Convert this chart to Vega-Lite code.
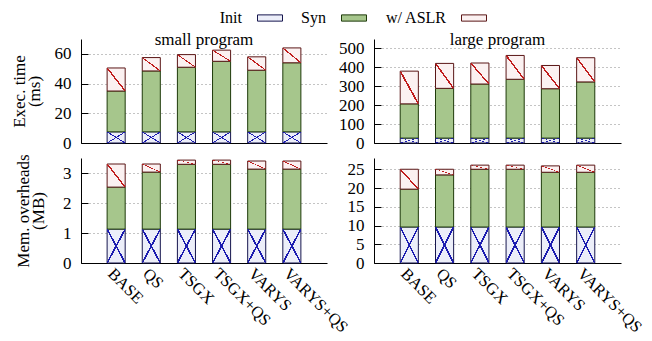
{
 "$schema": "https://vega.github.io/schema/vega-lite/v6.json",
 "background": "white",
 "padding": {"left": 10, "top": 5, "right": 2, "bottom": 0},
 "config": {
  "font": "Liberation Serif",
  "view": {"stroke": null},
  "axis": {"labelFont": "Liberation Serif", "labelFontSize": 17, "labelColor": "#000", "titleFont": "Liberation Serif", "titleFontSize": 17, "titleFontWeight": "normal", "titleColor": "#000", "titleLineHeight": 15, "domainColor": "#000", "domainWidth": 1, "tickColor": "#000", "gridColor": "#888", "gridDash": [1, 3]},
  "axisX": {"grid": false, "ticks": false, "title": null, "labelAngle": 45, "labelAlign": "left", "labelBaseline": "top", "labelPadding": 2, "labelFontSize": 16.5},
  "axisY": {"ticks": true, "tickSize": -7, "labelPadding": 17},
  "title": {"font": "Liberation Serif", "fontSize": 17, "fontWeight": "normal", "color": "#000", "offset": -10},
  "legend": {"labelFont": "Liberation Serif", "labelFontSize": 16, "labelColor": "#000", "symbolType": "M-1,-0.25H1V0.25H-1Z", "symbolSize": 625, "symbolStrokeWidth": 1, "symbolOpacity": 1, "labelAlign": "right", "labelOffset": -41, "columnPadding": 16}
 },
 "datasets": {
  "se": [
   {"p": "BASE", "c": "Init", "v": 7.5}, {"p": "BASE", "c": "Syn", "v": 27.5}, {"p": "BASE", "c": "w/ ASLR", "v": 15.5},
   {"p": "QS", "c": "Init", "v": 7.5}, {"p": "QS", "c": "Syn", "v": 41}, {"p": "QS", "c": "w/ ASLR", "v": 9},
   {"p": "TSGX", "c": "Init", "v": 7.5}, {"p": "TSGX", "c": "Syn", "v": 43.5}, {"p": "TSGX", "c": "w/ ASLR", "v": 8.5},
   {"p": "TSGX+QS", "c": "Init", "v": 7.5}, {"p": "TSGX+QS", "c": "Syn", "v": 47.5}, {"p": "TSGX+QS", "c": "w/ ASLR", "v": 7.5},
   {"p": "VARYS", "c": "Init", "v": 7.5}, {"p": "VARYS", "c": "Syn", "v": 41.5}, {"p": "VARYS", "c": "w/ ASLR", "v": 9},
   {"p": "VARYS+QS", "c": "Init", "v": 7.5}, {"p": "VARYS+QS", "c": "Syn", "v": 46.5}, {"p": "VARYS+QS", "c": "w/ ASLR", "v": 10}
  ],
  "le": [
   {"p": "BASE", "c": "Init", "v": 26}, {"p": "BASE", "c": "Syn", "v": 181}, {"p": "BASE", "c": "w/ ASLR", "v": 173},
   {"p": "QS", "c": "Init", "v": 26}, {"p": "QS", "c": "Syn", "v": 263}, {"p": "QS", "c": "w/ ASLR", "v": 132},
   {"p": "TSGX", "c": "Init", "v": 26}, {"p": "TSGX", "c": "Syn", "v": 286}, {"p": "TSGX", "c": "w/ ASLR", "v": 111},
   {"p": "TSGX+QS", "c": "Init", "v": 26}, {"p": "TSGX+QS", "c": "Syn", "v": 311}, {"p": "TSGX+QS", "c": "w/ ASLR", "v": 126},
   {"p": "VARYS", "c": "Init", "v": 26}, {"p": "VARYS", "c": "Syn", "v": 261}, {"p": "VARYS", "c": "w/ ASLR", "v": 123},
   {"p": "VARYS+QS", "c": "Init", "v": 26}, {"p": "VARYS+QS", "c": "Syn", "v": 297}, {"p": "VARYS+QS", "c": "w/ ASLR", "v": 128}
  ],
  "sm": [
   {"p": "BASE", "c": "Init", "v": 1.13}, {"p": "BASE", "c": "Syn", "v": 1.4}, {"p": "BASE", "c": "w/ ASLR", "v": 0.77},
   {"p": "QS", "c": "Init", "v": 1.13}, {"p": "QS", "c": "Syn", "v": 1.9}, {"p": "QS", "c": "w/ ASLR", "v": 0.27},
   {"p": "TSGX", "c": "Init", "v": 1.13}, {"p": "TSGX", "c": "Syn", "v": 2.16}, {"p": "TSGX", "c": "w/ ASLR", "v": 0.14},
   {"p": "TSGX+QS", "c": "Init", "v": 1.13}, {"p": "TSGX+QS", "c": "Syn", "v": 2.16}, {"p": "TSGX+QS", "c": "w/ ASLR", "v": 0.14},
   {"p": "VARYS", "c": "Init", "v": 1.13}, {"p": "VARYS", "c": "Syn", "v": 2.0}, {"p": "VARYS", "c": "w/ ASLR", "v": 0.27},
   {"p": "VARYS+QS", "c": "Init", "v": 1.13}, {"p": "VARYS+QS", "c": "Syn", "v": 2.0}, {"p": "VARYS+QS", "c": "w/ ASLR", "v": 0.27}
  ],
  "lm": [
   {"p": "BASE", "c": "Init", "v": 9.6}, {"p": "BASE", "c": "Syn", "v": 10.1}, {"p": "BASE", "c": "w/ ASLR", "v": 5.3},
   {"p": "QS", "c": "Init", "v": 9.6}, {"p": "QS", "c": "Syn", "v": 13.9}, {"p": "QS", "c": "w/ ASLR", "v": 1.5},
   {"p": "TSGX", "c": "Init", "v": 9.6}, {"p": "TSGX", "c": "Syn", "v": 15.4}, {"p": "TSGX", "c": "w/ ASLR", "v": 1.1},
   {"p": "TSGX+QS", "c": "Init", "v": 9.6}, {"p": "TSGX+QS", "c": "Syn", "v": 15.4}, {"p": "TSGX+QS", "c": "w/ ASLR", "v": 1.1},
   {"p": "VARYS", "c": "Init", "v": 9.6}, {"p": "VARYS", "c": "Syn", "v": 14.6}, {"p": "VARYS", "c": "w/ ASLR", "v": 1.7},
   {"p": "VARYS+QS", "c": "Init", "v": 9.6}, {"p": "VARYS+QS", "c": "Syn", "v": 14.6}, {"p": "VARYS+QS", "c": "w/ ASLR", "v": 1.9}
  ]
 },
 "columns": 2,
 "bounds": "flush",
 "spacing": {"row": 15, "column": 47},
 "resolve": {"scale": {"color": "shared", "stroke": "shared"}},
 "concat": [
  {
   "width": 246, "height": 104,
   "title": {"text": "small program"},
   "data": {"name": "se"},
   "transform": [{"stack": "v", "groupby": ["p"], "sort": [{"field": "c", "order": "ascending"}], "as": ["v0", "v1"]}],
   "encoding": {
    "x": {"field": "p", "type": "nominal", "sort": ["BASE", "QS", "TSGX", "TSGX+QS", "VARYS", "VARYS+QS"], "scale": {"paddingInner": 0.486, "paddingOuter": 0.743}, "axis": {"labels": false}},
    "y": {"field": "v0", "type": "quantitative", "scale": {"domain": [0, 70], "nice": false}, "axis": {"values": [0, 20, 40, 60], "title": ["Exec. time", "(ms)"], "titlePadding": 11}},
    "y2": {"field": "v1"}
   },
   "layer": [
    {"mark": {"type": "bar", "strokeWidth": 1},
     "encoding": {
      "color": {"field": "c", "type": "nominal", "scale": {"domain": ["Init", "Syn", "w/ ASLR"], "range": ["#eceef9", "#a6c68c", "#fbf1f1"]}, "legend": {"title": null, "orient": "none", "direction": "horizontal", "legendX": 176, "legendY": -34}},
      "stroke": {"field": "c", "type": "nominal", "scale": {"domain": ["Init", "Syn", "w/ ASLR"], "range": ["#16164e", "#1e3a0a", "#5a1616"]}, "legend": {"title": null, "orient": "none", "direction": "horizontal", "legendX": 176, "legendY": -34}}
     }},
    {"transform": [{"filter": "datum.c == 'Init'"}], "mark": {"type": "bar", "fill": {"gradient": "linear", "x1": 0, "y1": 1, "x2": 1, "y2": 0, "stops": [{"offset": 0, "color": "rgba(0,0,0,0)"}, {"offset": 0.475, "color": "rgba(0,0,0,0)"}, {"offset": 0.475, "color": "#1c1cb0"}, {"offset": 0.525, "color": "#1c1cb0"}, {"offset": 0.525, "color": "rgba(0,0,0,0)"}, {"offset": 1, "color": "rgba(0,0,0,0)"}]}}},
    {"transform": [{"filter": "datum.c == 'Init'"}], "mark": {"type": "bar", "fill": {"gradient": "linear", "x1": 0, "y1": 0, "x2": 1, "y2": 1, "stops": [{"offset": 0, "color": "rgba(0,0,0,0)"}, {"offset": 0.475, "color": "rgba(0,0,0,0)"}, {"offset": 0.475, "color": "#1c1cb0"}, {"offset": 0.525, "color": "#1c1cb0"}, {"offset": 0.525, "color": "rgba(0,0,0,0)"}, {"offset": 1, "color": "rgba(0,0,0,0)"}]}}},
    {"transform": [{"filter": "datum.c == 'w/ ASLR'"}], "mark": {"type": "bar", "fill": {"gradient": "linear", "x1": 0, "y1": 1, "x2": 1, "y2": 0, "stops": [{"offset": 0, "color": "rgba(0,0,0,0)"}, {"offset": 0.475, "color": "rgba(0,0,0,0)"}, {"offset": 0.475, "color": "#c01c1c"}, {"offset": 0.525, "color": "#c01c1c"}, {"offset": 0.525, "color": "rgba(0,0,0,0)"}, {"offset": 1, "color": "rgba(0,0,0,0)"}]}}}
   ]
  },
  {
   "width": 247, "height": 104,
   "title": {"text": "large program"},
   "data": {"name": "le"},
   "transform": [{"stack": "v", "groupby": ["p"], "sort": [{"field": "c", "order": "ascending"}], "as": ["v0", "v1"]}],
   "encoding": {
    "x": {"field": "p", "type": "nominal", "sort": ["BASE", "QS", "TSGX", "TSGX+QS", "VARYS", "VARYS+QS"], "scale": {"paddingInner": 0.486, "paddingOuter": 0.743}, "axis": {"labels": false}},
    "y": {"field": "v0", "type": "quantitative", "scale": {"domain": [0, 550], "nice": false}, "axis": {"values": [0, 100, 200, 300, 400, 500], "title": null}},
    "y2": {"field": "v1"}
   },
   "layer": [
    {"mark": {"type": "bar", "strokeWidth": 1},
     "encoding": {
      "color": {"field": "c", "type": "nominal"},
      "stroke": {"field": "c", "type": "nominal"}
     }},
    {"transform": [{"filter": "datum.c == 'Init'"}], "mark": {"type": "bar", "fill": {"gradient": "linear", "x1": 0, "y1": 1, "x2": 1, "y2": 0, "stops": [{"offset": 0, "color": "rgba(0,0,0,0)"}, {"offset": 0.475, "color": "rgba(0,0,0,0)"}, {"offset": 0.475, "color": "#1c1cb0"}, {"offset": 0.525, "color": "#1c1cb0"}, {"offset": 0.525, "color": "rgba(0,0,0,0)"}, {"offset": 1, "color": "rgba(0,0,0,0)"}]}}},
    {"transform": [{"filter": "datum.c == 'Init'"}], "mark": {"type": "bar", "fill": {"gradient": "linear", "x1": 0, "y1": 0, "x2": 1, "y2": 1, "stops": [{"offset": 0, "color": "rgba(0,0,0,0)"}, {"offset": 0.475, "color": "rgba(0,0,0,0)"}, {"offset": 0.475, "color": "#1c1cb0"}, {"offset": 0.525, "color": "#1c1cb0"}, {"offset": 0.525, "color": "rgba(0,0,0,0)"}, {"offset": 1, "color": "rgba(0,0,0,0)"}]}}},
    {"transform": [{"filter": "datum.c == 'w/ ASLR'"}], "mark": {"type": "bar", "fill": {"gradient": "linear", "x1": 0, "y1": 1, "x2": 1, "y2": 0, "stops": [{"offset": 0, "color": "rgba(0,0,0,0)"}, {"offset": 0.475, "color": "rgba(0,0,0,0)"}, {"offset": 0.475, "color": "#c01c1c"}, {"offset": 0.525, "color": "#c01c1c"}, {"offset": 0.525, "color": "rgba(0,0,0,0)"}, {"offset": 1, "color": "rgba(0,0,0,0)"}]}}}
   ]
  },
  {
   "width": 246, "height": 105,
   "data": {"name": "sm"},
   "transform": [{"stack": "v", "groupby": ["p"], "sort": [{"field": "c", "order": "ascending"}], "as": ["v0", "v1"]}],
   "encoding": {
    "x": {"field": "p", "type": "nominal", "sort": ["BASE", "QS", "TSGX", "TSGX+QS", "VARYS", "VARYS+QS"], "scale": {"paddingInner": 0.486, "paddingOuter": 0.743}},
    "y": {"field": "v0", "type": "quantitative", "scale": {"domain": [0, 3.5], "nice": false}, "axis": {"values": [0, 1, 2, 3], "title": ["Mem. overheads", "(MB)"], "titlePadding": 15}},
    "y2": {"field": "v1"}
   },
   "layer": [
    {"mark": {"type": "bar", "strokeWidth": 1},
     "encoding": {
      "color": {"field": "c", "type": "nominal"},
      "stroke": {"field": "c", "type": "nominal"}
     }},
    {"transform": [{"filter": "datum.c == 'Init'"}], "mark": {"type": "bar", "fill": {"gradient": "linear", "x1": 0, "y1": 1, "x2": 1, "y2": 0, "stops": [{"offset": 0, "color": "rgba(0,0,0,0)"}, {"offset": 0.475, "color": "rgba(0,0,0,0)"}, {"offset": 0.475, "color": "#1c1cb0"}, {"offset": 0.525, "color": "#1c1cb0"}, {"offset": 0.525, "color": "rgba(0,0,0,0)"}, {"offset": 1, "color": "rgba(0,0,0,0)"}]}}},
    {"transform": [{"filter": "datum.c == 'Init'"}], "mark": {"type": "bar", "fill": {"gradient": "linear", "x1": 0, "y1": 0, "x2": 1, "y2": 1, "stops": [{"offset": 0, "color": "rgba(0,0,0,0)"}, {"offset": 0.475, "color": "rgba(0,0,0,0)"}, {"offset": 0.475, "color": "#1c1cb0"}, {"offset": 0.525, "color": "#1c1cb0"}, {"offset": 0.525, "color": "rgba(0,0,0,0)"}, {"offset": 1, "color": "rgba(0,0,0,0)"}]}}},
    {"transform": [{"filter": "datum.c == 'w/ ASLR'"}], "mark": {"type": "bar", "fill": {"gradient": "linear", "x1": 0, "y1": 1, "x2": 1, "y2": 0, "stops": [{"offset": 0, "color": "rgba(0,0,0,0)"}, {"offset": 0.475, "color": "rgba(0,0,0,0)"}, {"offset": 0.475, "color": "#c01c1c"}, {"offset": 0.525, "color": "#c01c1c"}, {"offset": 0.525, "color": "rgba(0,0,0,0)"}, {"offset": 1, "color": "rgba(0,0,0,0)"}]}}}
   ]
  },
  {
   "width": 247, "height": 105,
   "data": {"name": "lm"},
   "transform": [{"stack": "v", "groupby": ["p"], "sort": [{"field": "c", "order": "ascending"}], "as": ["v0", "v1"]}],
   "encoding": {
    "x": {"field": "p", "type": "nominal", "sort": ["BASE", "QS", "TSGX", "TSGX+QS", "VARYS", "VARYS+QS"], "scale": {"paddingInner": 0.486, "paddingOuter": 0.743}},
    "y": {"field": "v0", "type": "quantitative", "scale": {"domain": [0, 28], "nice": false}, "axis": {"values": [0, 5, 10, 15, 20, 25], "title": null}},
    "y2": {"field": "v1"}
   },
   "layer": [
    {"mark": {"type": "bar", "strokeWidth": 1},
     "encoding": {
      "color": {"field": "c", "type": "nominal"},
      "stroke": {"field": "c", "type": "nominal"}
     }},
    {"transform": [{"filter": "datum.c == 'Init'"}], "mark": {"type": "bar", "fill": {"gradient": "linear", "x1": 0, "y1": 1, "x2": 1, "y2": 0, "stops": [{"offset": 0, "color": "rgba(0,0,0,0)"}, {"offset": 0.475, "color": "rgba(0,0,0,0)"}, {"offset": 0.475, "color": "#1c1cb0"}, {"offset": 0.525, "color": "#1c1cb0"}, {"offset": 0.525, "color": "rgba(0,0,0,0)"}, {"offset": 1, "color": "rgba(0,0,0,0)"}]}}},
    {"transform": [{"filter": "datum.c == 'Init'"}], "mark": {"type": "bar", "fill": {"gradient": "linear", "x1": 0, "y1": 0, "x2": 1, "y2": 1, "stops": [{"offset": 0, "color": "rgba(0,0,0,0)"}, {"offset": 0.475, "color": "rgba(0,0,0,0)"}, {"offset": 0.475, "color": "#1c1cb0"}, {"offset": 0.525, "color": "#1c1cb0"}, {"offset": 0.525, "color": "rgba(0,0,0,0)"}, {"offset": 1, "color": "rgba(0,0,0,0)"}]}}},
    {"transform": [{"filter": "datum.c == 'w/ ASLR'"}], "mark": {"type": "bar", "fill": {"gradient": "linear", "x1": 0, "y1": 1, "x2": 1, "y2": 0, "stops": [{"offset": 0, "color": "rgba(0,0,0,0)"}, {"offset": 0.475, "color": "rgba(0,0,0,0)"}, {"offset": 0.475, "color": "#c01c1c"}, {"offset": 0.525, "color": "#c01c1c"}, {"offset": 0.525, "color": "rgba(0,0,0,0)"}, {"offset": 1, "color": "rgba(0,0,0,0)"}]}}}
   ]
  }
 ]
}
